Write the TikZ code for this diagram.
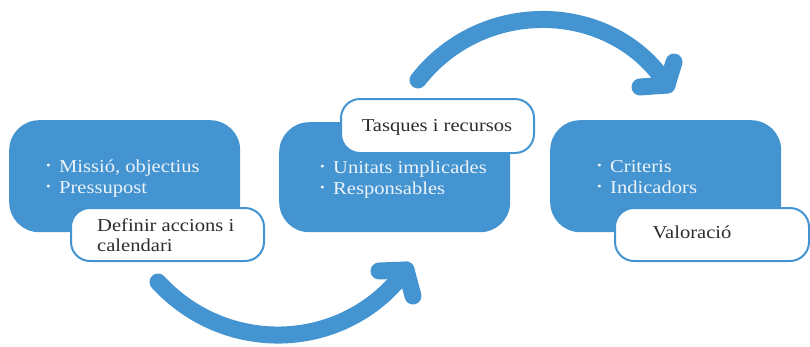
\documentclass[tikz,border=0pt]{standalone}
\usepackage{fontspec}
\setmainfont{Liberation Serif}[FakeStretch=1.13]
\definecolor{blu}{RGB}{67,148,208}
\definecolor{txt}{RGB}{45,45,45}
\definecolor{lt}{RGB}{236,243,250}
\newcommand\bul{\makebox[13pt][l]{\raisebox{0.16em}{\scalebox{0.65}{\textbullet}}}}
\begin{document}
\begin{tikzpicture}[x=1pt,y=-1pt,
  bluebox/.style={fill=blu, draw=none, rounded corners=30pt, anchor=north west, inner sep=0pt},
  whitebox/.style={fill=white, draw=blu, line width=2pt, rounded corners=19pt, anchor=north west, inner sep=0pt},
  bt/.style={anchor=base west, inner sep=0pt, text=lt, font=\fontsize{18.2}{21}\selectfont},
  wt/.style={anchor=base west, inner sep=0pt, text=txt, font=\fontsize{18.2}{21}\selectfont},
  wc/.style={anchor=base, inner sep=0pt, text=txt, font=\fontsize{18.2}{21}\selectfont},
  arr/.style={draw=blu, line width=17pt, line cap=round, line join=round}]
\useasboundingbox (0,0) rectangle (810,346);
% blue boxes
\node[bluebox, minimum width=231pt, minimum height=112pt] (b1) at (9,120) {};
\node[bluebox, minimum width=231pt, minimum height=110pt] (b2) at (279,122) {};
\node[bluebox, minimum width=231pt, minimum height=112pt] (b3) at (550,120) {};
% bullet texts
\node[bt] (t1a) at (46,172) {\bul Missió, objectius};
\node[bt] (t1b) at (46,193) {\bul Pressupost};
\node[bt] (t2a) at (320,173) {\bul Unitats implicades};
\node[bt] (t2b) at (320,194) {\bul Responsables};
\node[bt] (t3a) at (597,172) {\bul Criteris};
\node[bt] (t3b) at (597,193) {\bul Indicadors};
% white boxes
\node[whitebox, minimum width=193pt, minimum height=53pt] (w1) at (70,207) {};
\node[whitebox, minimum width=193pt, minimum height=54pt] (w2) at (340,98) {};
\node[whitebox, minimum width=194pt, minimum height=53pt] (w3) at (614,207) {};
\node[wt] (l1a) at (97,231) {Definir accions i};
\node[wt] (l1b) at (97,251) {calendari};
\node[wc] (l2) at (437,131) {Tasques i recursos};
\node[wc] (l3) at (692,238) {Valoració};
% bottom arrow
\coordinate (a1s) at (158,282);
\coordinate (a1t) at (406,270);
\coordinate (a1l) at (379,271);
\coordinate (a1r) at (413,296);
\draw[arr] (a1s) .. controls (227,357) and (346,352) .. (a1t);
\draw[arr] (a1l) -- (a1t) -- (a1r);
% top arrow
\coordinate (a2s) at (418,80);
\coordinate (a2t) at (667,85);
\coordinate (a2l) at (640,87);
\coordinate (a2r) at (674,62);
\draw[arr] (a2s) .. controls (484,-4) and (613,1) .. (a2t);
\draw[arr] (a2l) -- (a2t) -- (a2r);
\end{tikzpicture}
\end{document}
